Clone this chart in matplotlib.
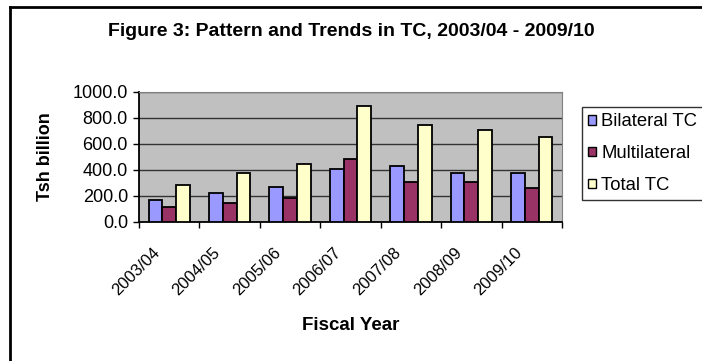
import numpy as np
import matplotlib.pyplot as plt
from matplotlib.lines import Line2D
from matplotlib.transforms import ScaledTranslation

plt.rcParams['font.family'] = ['Liberation Sans', 'DejaVu Sans']

# Data (Tsh billion)
years = ['2003/04', '2004/05', '2005/06', '2006/07', '2007/08', '2008/09', '2009/10']
bilateral = [170, 220, 272, 405, 431, 380, 380]
multilateral = [118, 144, 182, 485, 310, 310, 262]
total = [285, 380, 443, 892, 749, 708, 656]

series = [('Bilateral TC', bilateral, '#9999FF'),
          ('Multilateral', multilateral, '#993366'),
          ('Total TC', total, '#FFFFCC')]

W, H = 702, 361
fig = plt.figure(figsize=(W / 100, H / 100), dpi=100)
ax = fig.add_axes([139 / W, 1 - 222 / H, 423 / W, 130 / H])
ax.set_facecolor('#C0C0C0')

x = np.arange(len(years))
w = 1 / 4.4
for i, (name, vals, col) in enumerate(series):
    ax.bar(x + (i - 1) * w, vals, w, color=col, edgecolor='black', linewidth=1.3,
           label=name, zorder=3)

ax.set_xlim(-0.5, len(years) - 0.5)
ax.set_ylim(0, 1000)
yt = np.arange(0, 1001, 200)
ax.set_yticks(yt)
ax.set_yticklabels([f'{v:.1f}' for v in yt], fontsize=13)
ax.yaxis.grid(True, color='#333333', linewidth=1, zorder=0)
ax.set_axisbelow(True)

ax.set_xticks(x)
ax.set_xticklabels(years, rotation=45, ha='right', va='center',
                   rotation_mode='anchor', fontsize=12)
ax.tick_params(axis='x', length=0, pad=20)
# Excel puts the rotated labels a little left of the category centre
shift = ScaledTranslation(-0.12, 0, fig.dpi_scale_trans)
for lab in ax.get_xticklabels():
    lab.set_transform(lab.get_transform() + shift)
ax.set_xticks(np.arange(-0.5, len(years)), minor=True)
ax.tick_params(axis='x', which='minor', length=4, direction='out', width=1)
ax.tick_params(axis='y', length=4, direction='out', width=1, pad=4)

for s in ['top', 'right']:
    ax.spines[s].set_color('#808080')
for s in ['left', 'bottom']:
    ax.spines[s].set_color('black')
    ax.spines[s].set_linewidth(1.3)

fig.text(46 / W, 1 - 157 / H, 'Tsh billion', rotation=90, ha='center', va='center',
         fontsize=13, fontweight='bold')
fig.text(351 / W, 1 - 325 / H, 'Fiscal Year', ha='center', va='center',
         fontsize=13.5, fontweight='bold')
fig.text(351 / W, 1 - 31 / H, 'Figure 3: Pattern and Trends in TC, 2003/04 - 2009/10',
         ha='center', va='center', fontsize=14, fontweight='bold')

leg = ax.legend(loc='upper left', bbox_to_anchor=(582 / W, 1 - 107 / H),
                bbox_transform=fig.transFigure, fontsize=13.3, frameon=True,
                fancybox=False, edgecolor='black', handlelength=0.4,
                handleheight=0.4, handletextpad=0.3, labelspacing=0.8,
                borderpad=0.35, borderaxespad=0)
leg.get_frame().set_linewidth(1)
for h in leg.legend_handles:
    h.set_linewidth(1)

# chart border (only left and top edges fall inside the crop)
fig.add_artist(Line2D([10 / W, 10 / W], [0, 1 - 7 / H], color='black', linewidth=2,
                      transform=fig.transFigure))
fig.add_artist(Line2D([10 / W, 1], [1 - 7 / H, 1 - 7 / H], color='black', linewidth=2,
                      transform=fig.transFigure))

fig.savefig('out.png', dpi=100)
